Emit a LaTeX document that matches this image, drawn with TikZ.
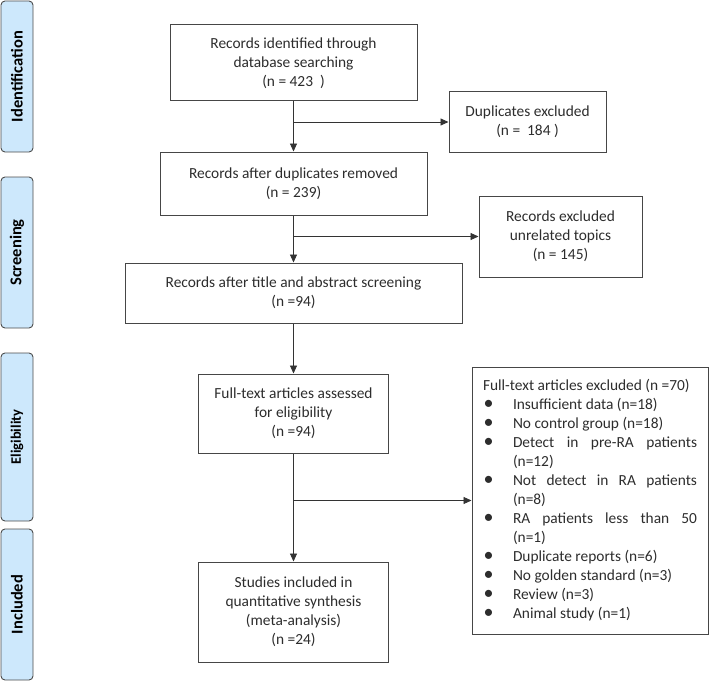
\documentclass[tikz,border=0pt]{standalone}
\usepackage{fontspec}
\setmainfont{Carlito}
\usetikzlibrary{arrows.meta,calc}
\definecolor{barblue}{RGB}{205,232,252}
\definecolor{txtgrey}{RGB}{45,45,45}
\definecolor{linegrey}{RGB}{70,70,70}
\newcommand{\bigbul}{\raisebox{0pt}[0pt][0pt]{\fontsize{20}{19}\selectfont\textbullet}}
\begin{document}
\begin{tikzpicture}[x=1pt,y=-1pt,
  every node/.style={font=\fontsize{15.4}{19}\selectfont, text=txtgrey},
  box/.style={draw=linegrey, line width=1pt, fill=white, inner sep=0pt, align=center},
  bar/.style={draw=black!70, line width=0.9pt, fill=barblue, rounded corners=4pt, inner sep=0pt,
    rotate=90, minimum height=32, text=black, font=\fontsize{16.5}{19}\selectfont\bfseries},
  arr/.style={draw=black!80, line width=0.9pt, -{Triangle[length=8pt,width=7pt]}}]
\useasboundingbox (0,0) rectangle (709,682);
% phase bars
\node[bar, minimum width=151] (pid) at (17,76.5) {Identification};
\node[bar, minimum width=151] (pscr) at (17,252.5) {Screening};
\node[bar, minimum width=168, font=\fontsize{14.5}{19}\selectfont\bfseries] (pel) at (17,437) {Eligibility};
\node[bar, minimum width=151] (pinc) at (17,604.5) {Included};
% main boxes
\node[box, minimum width=247, minimum height=76] (b1) at (293.5,63) {Records identified through\\database searching\\(n = 423\ \ )};
\node[box, minimum width=267, minimum height=63] (b2) at (293.5,183.5) {Records after duplicates removed\\(n = 239)};
\node[box, minimum width=337, minimum height=60] (b3) at (293.5,293) {Records after title and abstract screening\\(n =94)};
\node[box, minimum width=190, minimum height=79] (b4) at (293.5,413.5) {Full-text articles assessed\\for eligibility\\(n =94)};
\node[box, minimum width=190, minimum height=100] (b5) at (293.5,612) {Studies included in\\quantitative synthesis\\(meta-analysis)\\(n =24)};
% side boxes
\node[box, minimum width=157, minimum height=60] (dup) at (527.5,122) {Duplicates excluded\\(n =\ \ 184 )};
\node[box, minimum width=163, minimum height=81] (rex) at (560.5,236.5) {Records excluded\\unrelated topics\\(n = 145)};
\node[box, minimum width=236, minimum height=267, text width=214, align=justify] (fex) at (590,500.5) {%
\hyphenpenalty=10000
Full-text articles excluded (n =70)
\begin{list}{\hspace{0.5pt}\bigbul\hfill}{\setlength{\leftmargin}{30pt}\setlength{\labelwidth}{30pt}\setlength{\labelsep}{0pt}\setlength{\itemsep}{0pt}\setlength{\parsep}{0pt}\setlength{\topsep}{0pt}\setlength{\partopsep}{0pt}}
\item Insufficient data (n=18)
\item No control group (n=18)
\item Detect in pre-RA patients\linebreak (n=12)
\item Not detect in RA patients\linebreak (n=8)
\item RA patients less than 50\linebreak (n=1)
\item Duplicate reports (n=6)
\item No golden standard (n=3)
\item Review (n=3)
\item Animal study (n=1)
\end{list}};
% connectors
\draw[arr] (b1.south) -- (b2.north);
\draw[arr] (b1.south |- dup.west) -- (dup.west);
\draw[arr] (b2.south) -- (b3.north);
\draw[arr] (b2.south |- rex.west) -- (rex.west);
\draw[arr] (b3.south) -- (b4.north);
\draw[arr] (b4.south) -- (b5.north);
\draw[arr] (b4.south |- fex.west) -- (fex.west);
\end{tikzpicture}
\end{document}
